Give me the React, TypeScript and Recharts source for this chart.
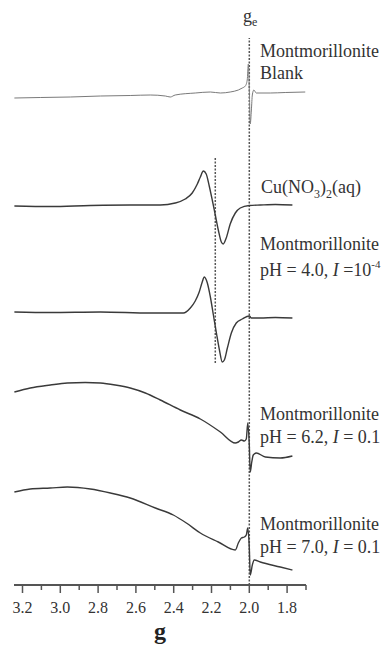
import { LineChart, Line, XAxis, YAxis, ReferenceLine } from 'recharts'

// EPR first-derivative spectra, plotted against g (reversed axis).
// Each trace: g positions and intensity relative to its own left baseline.
const blankG = [3.243, 3.106, 2.947, 2.788, 2.63, 2.524, 2.444, 2.418, 2.392, 2.286, 2.206, 2.153, 2.101, 2.058, 2.037, 2.021, 2.011, 2.005, 2.0, 1.995, 1.989, 1.984, 1.976, 1.963, 1.889, 1.81, 1.704]
const blankI = [0, 0.5, 1, 2, 2.5, 3, 2, 1, 3, 5, 6, 5, 6, 8, 10, 12, 18, 34, 8, -26, -12, 3, 8, 5, 5, 5.5, 6]

const cuG = [3.243, 3.053, 2.841, 2.63, 2.471, 2.392, 2.339, 2.302, 2.275, 2.259, 2.243, 2.228, 2.212, 2.196, 2.18, 2.164, 2.148, 2.138, 2.122, 2.101, 2.074, 2.048, 2.0, 1.942, 1.862, 1.772]
const cuI = [0, -0.5, 0.5, 1, 1, 3, 7, 13, 22, 29, 35, 32, 20, 6, -9, -24, -36, -38, -32, -18, -7, -2, 0.5, 1, 1.5, 1]

const ph40G = [3.243, 3.053, 2.788, 2.524, 2.392, 2.349, 2.312, 2.286, 2.265, 2.249, 2.238, 2.222, 2.206, 2.19, 2.174, 2.158, 2.143, 2.132, 2.116, 2.095, 2.069, 2.037, 2.0, 1.989, 1.942, 1.862, 1.772]
const ph40I = [0, -0.5, 0, -1, -1, -1, 4, 11, 20, 30, 35, 29, 15, -3, -21, -38, -50, -48, -36, -21, -11, -7, -4, -6, -6, -5.5, -6]

const ph62G = [3.243, 3.159, 3.053, 2.963, 2.868, 2.788, 2.709, 2.63, 2.55, 2.471, 2.365, 2.259, 2.153, 2.074, 2.058, 2.042, 2.026, 2.016, 2.008, 2.0, 1.995, 1.987, 1.979, 1.963, 1.915, 1.836, 1.772]
const ph62I = [0, 4, 7, 9, 9.5, 9, 7, 4, -1, -8, -18, -27, -40, -51, -50, -48, -49, -47, -31, -53, -80, -70, -63, -61, -65, -66, -64]

const ph70G = [3.243, 3.159, 3.053, 2.963, 2.841, 2.735, 2.63, 2.497, 2.402, 2.333, 2.259, 2.164, 2.074, 2.058, 2.042, 2.026, 2.016, 2.008, 2.0, 1.995, 1.984, 1.974, 1.942, 1.836, 1.772]
const ph70I = [0, 3, 4, 5, 3, -1, -6, -16, -23, -31, -41, -50, -58, -51, -46, -45, -43, -36, -56, -83, -73, -68, -70, -75, -78]

// vertical stacking of the five traces (blank, Cu(aq), pH 4.0, pH 6.2, pH 7.0)
const stackOffsets = [487, 379, 273, 193, 93]

const gTicks = [3.2, 3.1, 3.0, 2.9, 2.8, 2.7, 2.6, 2.5, 2.4, 2.3, 2.2, 2.1, 2.0, 1.9, 1.8, 1.7]
const gLabels = ['3.2', '3.0', '2.8', '2.6', '2.4', '2.2', '2.0', '1.8']

const gElectron = 2.0
const gCuParallel = 2.18

const toPoints = (gs: number[], vals: number[], offset: number) =>
  gs.map((g, i) => ({ g, v: vals[i] + offset }))

const traces = [
  { key: 'blank', data: toPoints(blankG, blankI, stackOffsets[0]), color: '#7a7a7a', width: 1 },
  { key: 'cu', data: toPoints(cuG, cuI, stackOffsets[1]), color: '#3a3a3a', width: 1.4 },
  { key: 'ph40', data: toPoints(ph40G, ph40I, stackOffsets[2]), color: '#3a3a3a', width: 1.4 },
  { key: 'ph62', data: toPoints(ph62G, ph62I, stackOffsets[3]), color: '#3a3a3a', width: 1.4 },
  { key: 'ph70', data: toPoints(ph70G, ph70I, stackOffsets[4]), color: '#3a3a3a', width: 1.4 },
]

const serif = '"Liberation Serif", "Times New Roman", serif'

function GTick({ x, y, payload }: any) {
  const label = gLabels.find((l) => Math.abs(Number(l) - payload.value) < 1e-6)
  return (
    <g>
      <line x1={x} x2={x} y1={y} y2={y + (label ? 8 : 5)} stroke="#555" strokeWidth={1.5} />
      {label && (
        <text
          x={x}
          y={y + 28}
          textAnchor="middle"
          fill="#333"
          style={{ fontFamily: serif, fontSize: 16 }}
        >
          {label}
        </text>
      )}
    </g>
  )
}

function Annotations() {
  const t = { fontFamily: serif, fontSize: 18, fill: '#333' }
  return (
    <svg width={385} height={645} style={{ position: 'absolute', left: 0, top: 0, pointerEvents: 'none' }}>
      <text x={243} y={22} {...t}>
        g<tspan fontSize={12} dy={4}>e</tspan>
      </text>

      <text x={260} y={57} {...t}>Montmorillonite</text>
      <text x={260} y={79} {...t}>Blank</text>

      <text x={261} y={193} {...t}>
        Cu(NO<tspan fontSize={12} dy={5}>3</tspan>
        <tspan dy={-5}>)</tspan>
        <tspan fontSize={12} dy={5}>2</tspan>
        <tspan dy={-5}>(aq)</tspan>
      </text>

      <text x={260} y={250} {...t}>Montmorillonite</text>
      <text x={260} y={276} {...t}>
        pH = 4.0, <tspan fontStyle="italic">I</tspan> =10<tspan fontSize={11} dy={-8}>-4</tspan>
      </text>

      <text x={260} y={420} {...t}>Montmorillonite</text>
      <text x={260} y={443} {...t}>
        pH = 6.2, <tspan fontStyle="italic">I</tspan> = 0.1
      </text>

      <text x={260} y={530} {...t}>Montmorillonite</text>
      <text x={260} y={553} {...t}>
        pH = 7.0, <tspan fontStyle="italic">I</tspan> = 0.1
      </text>

      <text x={160} y={639} textAnchor="middle" fontFamily={serif} fontSize={24} fontWeight="bold" fill="#222">
        g
      </text>
    </svg>
  )
}

export default function App() {
  return (
    <div style={{ position: 'absolute', left: 0, top: 0, width: 385, height: 645, background: '#fff' }}>
      <LineChart width={385} height={645} margin={{ top: 55, right: 79, bottom: 20, left: 14 }}>
        <XAxis
          dataKey="g"
          type="number"
          domain={[1.7, 3.245]}
          reversed
          ticks={gTicks}
          interval={0}
          tick={<GTick />}
          tickLine={false}
          tickSize={0}
          tickMargin={0}
          height={40}
          axisLine={{ stroke: '#555', strokeWidth: 2 }}
        />
        <YAxis
          type="number"
          domain={[0, 530]}
          width={0}
          tick={false}
          tickLine={false}
          axisLine={{ stroke: '#555', strokeWidth: 2 }}
        />
        <ReferenceLine
          segment={[{ x: gElectron, y: 0 }, { x: gElectron, y: 547 }]}
          ifOverflow="visible"
          stroke="#555"
          strokeWidth={1.5}
          strokeDasharray="2 1.5"
        />
        <ReferenceLine
          segment={[{ x: gCuParallel, y: 222 }, { x: gCuParallel, y: 428 }]}
          ifOverflow="visible"
          stroke="#555"
          strokeWidth={1.5}
          strokeDasharray="2 1.5"
        />
        {traces.map((s) => (
          <Line
            key={s.key}
            data={s.data}
            dataKey="v"
            type="monotone"
            dot={false}
            stroke={s.color}
            strokeWidth={s.width}
            isAnimationActive={false}
          />
        ))}
      </LineChart>
      <Annotations />
    </div>
  )
}
